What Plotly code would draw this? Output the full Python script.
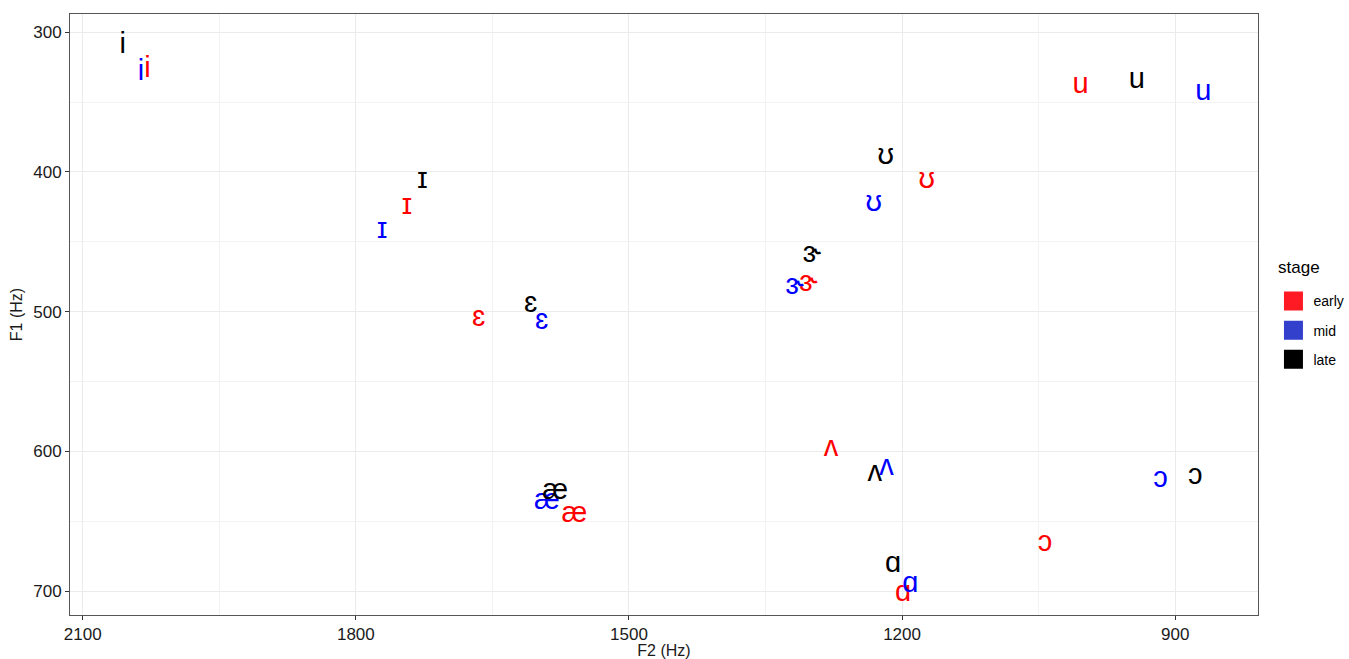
import plotly.graph_objects as go

vowels = ["i", "ɪ", "ɛ", "æ", "ʌ", "ɑ", "ɔ", "ʊ", "u", "ɝ"]
stages = ["early", "mid", "late"]

f2_early = [2029, 1744, 1665, 1560, 1278, 1199, 1043, 1173, 1004, 1303]
f1_early = [327, 425, 505, 645, 598, 702, 666, 406, 338, 480]
f2_mid = [2036, 1771, 1596, 1590, 1217, 1191, 916, 1231, 869, 1318]
f1_mid = [329, 442, 507, 636, 612, 695, 620, 423, 343, 482]
f2_late = [2056, 1727, 1608, 1581, 1230, 1210, 878, 1218, 942, 1299]
f1_late = [310, 406, 495, 629, 616, 681, 618, 389, 335, 459]

text_colors = {"early": "#FF0000", "mid": "#0000FF", "late": "#000000"}
legend_colors = {"early": "#FF1A24", "mid": "#3340CC", "late": "#000000"}

data = {
    "early": (f2_early, f1_early),
    "mid": (f2_mid, f1_mid),
    "late": (f2_late, f1_late),
}

FONT = "Liberation Sans, Arial, DejaVu Sans, sans-serif"

fig = go.Figure()
for s in stages:
    f2, f1 = data[s]
    fig.add_trace(go.Scatter(
        x=f2, y=f1, mode="text", text=vowels,
        textposition="middle center",
        textfont=dict(family=FONT, size=29, color=text_colors[s]),
        showlegend=False, hoverinfo="skip",
    ))
for s in stages:
    fig.add_trace(go.Scatter(
        x=[None], y=[None], mode="markers", name=s, legendgroup=s,
        marker=dict(symbol="square", size=16, color=legend_colors[s],
                    line=dict(color=legend_colors[s], width=3)),
    ))

grid_major = "#EBEBEB"
axis_common = dict(
    showgrid=True, gridcolor=grid_major, gridwidth=1,
    zeroline=False, showline=True, mirror=True, linecolor="#555555", linewidth=1,
    ticks="outside", ticklen=4, tickcolor="#333333", tickwidth=1,
    tickfont=dict(family=FONT, size=17, color="#1a1a1a"),
    automargin=False,
)

fig.update_layout(
    width=1349, height=659,
    margin=dict(l=70, r=91, t=14, b=44, autoexpand=False),
    plot_bgcolor="white", paper_bgcolor="white",
    font=dict(family=FONT),
    xaxis=dict(
        **axis_common,
        range=[2114, 809], tick0=0, dtick=300,
        minor=dict(showgrid=True, dtick=150, tick0=0, gridcolor="#F2F2F2", gridwidth=1),
        title=dict(text="F2 (Hz)", font=dict(family=FONT, size=16, color="#1a1a1a"), standoff=2),
    ),
    yaxis=dict(
        **axis_common,
        range=[717, 287], tick0=0, dtick=100,
        minor=dict(showgrid=True, dtick=50, tick0=0, gridcolor="#F2F2F2", gridwidth=1),
        title=dict(text="F1 (Hz)", font=dict(family=FONT, size=16, color="#1a1a1a"), standoff=6),
    ),
    legend=dict(
        font=dict(family=FONT, size=14, color="#000000"),
        xref="container", yref="container",
        x=0.944, y=0.567, xanchor="left", yanchor="top",
        tracegroupgap=8, itemsizing="trace",
    ),
    annotations=[dict(
        text="stage", xref="paper", yref="paper", x=1.015, y=0.579,
        xanchor="left", yanchor="middle", showarrow=False,
        font=dict(family=FONT, size=17, color="#000000"),
    )],
)

fig.write_html("out.html")
